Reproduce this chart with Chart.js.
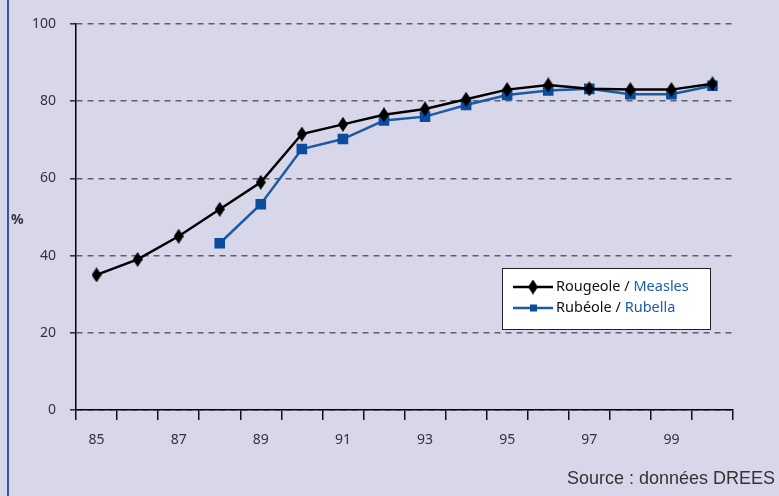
<!DOCTYPE html>
<html>
<head>
<meta charset="utf-8">
<script src="https://cdn.jsdelivr.net/npm/chart.js@4/dist/chart.umd.min.js"></script>
<style>
  html, body { margin: 0; padding: 0; background: #d7d7e9; }
  #wrap { width: 779px; height: 496px; position: relative; }
</style>
</head>
<body>
<div id="wrap"><canvas id="vaccChart"></canvas></div>
<script>
const years = ['85', '86', '87', '88', '89', '90', '91', '92', '93', '94', '95', '96', '97', '98', '99', '100'];
const measles = [35, 39, 45, 52, 59, 71.5, 74, 76.5, 78, 80.5, 83, 84.2, 83.2, 83, 83, 84.5];
const rubella = [null, null, null, 43.2, 53.3, 67.6, 70.2, 75, 76, 79, 81.6, 82.8, 83.2, 81.8, 81.8, 84];
const yTicks = [0, 20, 40, 60, 80, 100];

const BLACK = '#000000';
const BLUE = '#0b4c9c';
const BLUE_LINE = '#1a5aa6';
const TEXT = '#333333';

function diamond(w, h, color) {
    const c = document.createElement('canvas');
    c.width = w;
    c.height = h;
    const g = c.getContext('2d');
    g.fillStyle = color;
    g.beginPath();
    g.moveTo(w / 2, 0);
    g.lineTo(w, h / 2);
    g.lineTo(w / 2, h);
    g.lineTo(0, h / 2);
    g.closePath();
    g.fill();
    return c;
}
const diamondMark = diamond(10, 15, BLACK);

// frame, "%" label, legend and source line
const decorations = {
    id: 'decorations',
    afterDraw(chart) {
        const ctx = chart.ctx;
        ctx.save();
        // left blue rule
        ctx.strokeStyle = '#2a5aa8';
        ctx.lineWidth = 2;
        ctx.beginPath();
        ctx.moveTo(8, 0);
        ctx.lineTo(8, 496);
        ctx.stroke();

        ctx.fillStyle = TEXT;
        ctx.font = 'bold 14px "Noto Sans", sans-serif';
        ctx.textBaseline = 'middle';
        ctx.textAlign = 'left';
        ctx.fillText('%', 11, 220);

        // legend
        const lx = 502, ly = 268, lw = 208, lh = 61;
        ctx.fillStyle = '#ffffff';
        ctx.fillRect(lx, ly, lw, lh);
        ctx.strokeStyle = '#222222';
        ctx.lineWidth = 1;
        ctx.strokeRect(lx + 0.5, ly + 0.5, lw, lh);

        const rows = [
            { y: 287, color: BLACK, fr: 'Rougeole / ', en: 'Measles', mark: 'diamond' },
            { y: 308, color: BLUE_LINE, fr: 'Rubéole / ', en: 'Rubella', mark: 'square' }
        ];
        rows.forEach(r => {
            ctx.strokeStyle = r.color;
            ctx.lineWidth = 2.5;
            ctx.beginPath();
            ctx.moveTo(513, r.y);
            ctx.lineTo(553, r.y);
            ctx.stroke();
            if (r.mark === 'diamond') {
                ctx.drawImage(diamondMark, 533 - 5, r.y - 7.5, 10, 15);
            } else {
                ctx.fillStyle = BLUE;
                ctx.fillRect(530, r.y - 3.5, 7, 7);
            }
            ctx.font = '14.5px "Noto Sans", sans-serif';
            ctx.textAlign = 'left';
            ctx.fillStyle = '#111111';
            ctx.fillText(r.fr, 556, r.y);
            const w = ctx.measureText(r.fr).width;
            ctx.fillStyle = '#1c5ca8';
            ctx.fillText(r.en, 556 + w, r.y);
        });

        // condensed source line
        ctx.fillStyle = TEXT;
        ctx.font = '19px "Liberation Sans", sans-serif';
        ctx.textAlign = 'left';
        const src = 'Source : données DREES';
        const sw = ctx.measureText(src).width;
        const sx = 208 / sw;
        ctx.translate(775 - 208, 479);
        ctx.scale(sx, 1);
        ctx.fillText(src, 0, 0);
        ctx.restore();
    }
};

const ctx = document.getElementById('vaccChart').getContext('2d');
new Chart(ctx, {
    type: 'line',
    data: {
        labels: years,
        datasets: [
            {
                label: 'Rougeole / Measles',
                data: measles,
                borderColor: BLACK,
                backgroundColor: BLACK,
                borderWidth: 2.5,
                pointStyle: diamondMark,
                pointRadius: 7,
                tension: 0
            },
            {
                label: 'Rubéole / Rubella',
                data: rubella,
                borderColor: BLUE_LINE,
                backgroundColor: BLUE,
                borderWidth: 2.5,
                pointStyle: 'rect',
                pointRadius: 7.5,
                pointBorderWidth: 0,
                tension: 0
            }
        ]
    },
    options: {
        responsive: true,
        maintainAspectRatio: false,
        animation: false,
        layout: { padding: { left: 0, right: 46, top: 24, bottom: 0 } },
        plugins: {
            legend: { display: false },
            tooltip: { enabled: false }
        },
        scales: {
            x: {
                offset: true,
                grid: {
                    offset: true,
                    drawOnChartArea: false,
                    tickLength: 10,
                    color: '#111111',
                    lineWidth: 1.5
                },
                border: { color: '#000000', width: 1.5 },
                ticks: {
                    autoSkip: false,
                    maxRotation: 0,
                    padding: 12,
                    color: TEXT,
                    font: { family: '"Noto Sans", sans-serif', size: 14 },
                    callback: function (value, index) {
                        return index % 2 === 0 ? years[index] : '';
                    }
                },
                afterFit: scale => { scale.height = 86; }
            },
            y: {
                min: 0,
                max: 100,
                afterBuildTicks: scale => {
                    scale.ticks = yTicks.map(v => ({ value: v }));
                },
                grid: {
                    color: '#5e5e6a',
                    lineWidth: 1.6,
                    tickLength: 6,
                    tickBorderDash: [],
                    tickColor: '#333333'
                },
                border: { color: '#000000', width: 1.5, dash: [6, 5] },
                ticks: {
                    padding: 14,
                    color: TEXT,
                    font: { family: '"Noto Sans", sans-serif', size: 14 }
                },
                afterFit: scale => { scale.width = 76; }
            }
        }
    },
    plugins: [decorations]
});
</script>
</body>
</html>
